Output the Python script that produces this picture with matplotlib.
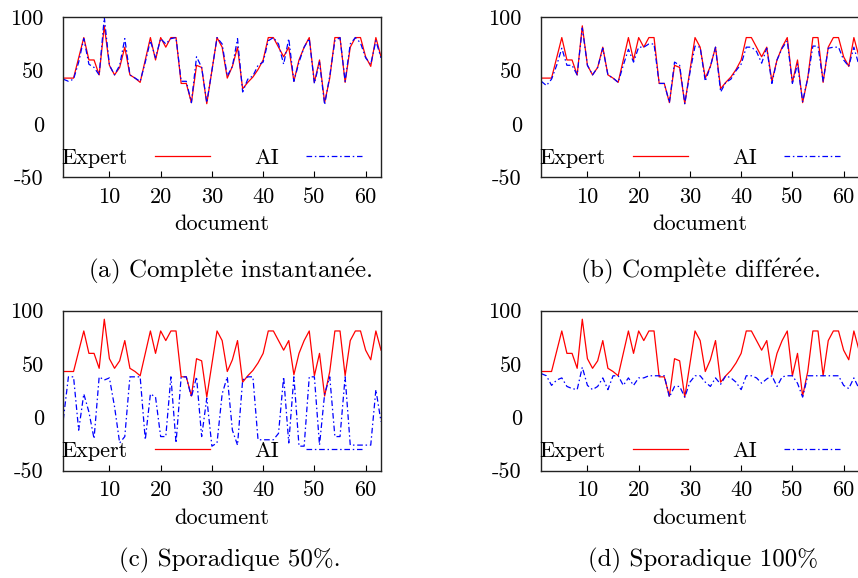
"""Expert vs AI scores per document for four feedback modes."""

from __future__ import annotations

import matplotlib

matplotlib.use("Agg")

import matplotlib.pyplot as plt

documents = list(range(1, 64))

expert = [
    43, 43, 43, 62, 81, 60, 60, 46, 92, 55,
    46, 53, 72, 46, 43, 39, 60, 81, 60, 81,
    72, 81, 81, 38, 38, 20, 55, 53, 19, 50,
    81, 72, 43, 54, 72, 33, 39, 44, 51, 60,
    81, 81, 72, 63, 72, 40, 60, 72, 81, 39,
    60, 20, 43, 81, 81, 39, 72, 81, 81, 63,
    54, 81, 63,
]

ai_instant = [
    42, 40, 42, 58, 80, 56, 53, 46, 100, 55,
    46, 55, 80, 46, 43, 40, 58, 78, 62, 80,
    75, 80, 81, 40, 40, 20, 63, 53, 20, 50,
    81, 75, 45, 54, 80, 30, 42, 45, 55, 58,
    78, 81, 75, 56, 80, 40, 58, 72, 80, 38,
    58, 18, 45, 78, 81, 40, 75, 81, 76, 62,
    56, 78, 62,
]

ai_deferred = [
    40, 36, 42, 55, 71, 55, 55, 46, 90, 55,
    46, 53, 71, 46, 43, 39, 55, 70, 58, 72,
    72, 75, 75, 38, 38, 20, 58, 55, 19, 48,
    73, 72, 40, 54, 72, 30, 39, 42, 50, 56,
    72, 72, 68, 57, 71, 38, 60, 71, 78, 38,
    56, 21, 43, 73, 73, 40, 71, 72, 72, 60,
    54, 72, 55,
]

ai_sporadic_50 = [
    -2, 38, 38, -12, 22, 5, -20, 38, 35, 37,
    10, -24, -18, 38, 38, 38, -21, 22, 19, -18,
    -18, 38, -24, 38, 38, 19, 38, -18, 18, -27,
    -24, 22, 38, -12, -26, 35, 38, 38, -21, -21,
    -21, -21, -15, 38, -24, 38, -27, -27, 38, 38,
    -26, 22, 38, -18, -18, 38, -26, -26, -26, -26,
    -26, 26, -4,
]

ai_sporadic_100 = [
    41, 39, 30, 35, 37, 29, 27, 26, 47, 30,
    26, 29, 37, 26, 39, 39, 30, 37, 30, 37,
    37, 39, 39, 39, 39, 19, 29, 29, 19, 33,
    39, 39, 33, 29, 37, 31, 39, 37, 33, 26,
    39, 39, 37, 32, 36, 39, 29, 38, 39, 39,
    32, 19, 39, 39, 39, 39, 39, 39, 39, 30,
    27, 37, 27,
]

# accented letters go through mathtext (cm) since cmr10 has no è / é
panels = [
    (r"(a) Compl$\grave{\mathrm{e}}$te instantan$\acute{\mathrm{e}}$e.", ai_instant),
    (r"(b) Compl$\grave{\mathrm{e}}$te diff$\acute{\mathrm{e}}$r$\acute{\mathrm{e}}$e.", ai_deferred),
    ("(c) Sporadique 50%.", ai_sporadic_50),
    ("(d) Sporadique 100%", ai_sporadic_100),
]

x_ticks = [10, 20, 30, 40, 50, 60]
y_ticks = [-50, 0, 50, 100]
y_tick_labels = ["-50", "0", "50", "100"]

FIG_W, FIG_H = 858, 578
# axes boxes in pixels: left, top, width, height
AXES_PX = [
    (63.3, 17.3, 317.7, 160.0),
    (541.3, 17.3, 317.7, 160.0),
    (63.3, 310.7, 317.7, 160.0),
    (541.3, 310.7, 317.7, 160.0),
]
CAPTION_PX = [(230, 271), (700, 271), (230, 560), (703, 560)]

plt.rcParams["font.family"] = ["cmr10", "DejaVu Serif"]
plt.rcParams["font.size"] = 16
plt.rcParams["axes.unicode_minus"] = False
plt.rcParams["mathtext.fontset"] = "cm"

fig = plt.figure(figsize=(FIG_W / 100, FIG_H / 100), dpi=100)

for (caption, ai_values), (left, top, width, height), (cx, cy) in zip(panels, AXES_PX, CAPTION_PX):
    ax = fig.add_axes([left / FIG_W, 1 - (top + height) / FIG_H, width / FIG_W, height / FIG_H])
    ax.plot(documents, expert, color="#ff0000", linewidth=0.9, label="Expert")
    ax.plot(documents, ai_values, color="#0000ff", linewidth=0.9,
            linestyle=(0, (4.5, 2.2, 1.2, 2.2)), label="AI")

    ax.set_xlim(1, 63)
    ax.set_ylim(-50, 100)
    ax.set_xticks(x_ticks)
    ax.set_yticks(y_ticks, y_tick_labels)
    ax.tick_params(axis="x", direction="in", length=4, width=0.8, pad=7)
    ax.tick_params(axis="y", length=0, pad=14)
    for spine in ax.spines.values():
        spine.set_linewidth(1.0)
        spine.set_color("#222222")
    ax.set_xlabel("document", labelpad=6)

    ax.legend(
        loc="lower left",
        bbox_to_anchor=(-0.005, 0.06),
        ncol=2,
        frameon=False,
        markerfirst=False,
        handlelength=2.5,
        handletextpad=1.2,
        columnspacing=2.0,
        borderaxespad=0,
        borderpad=0,
        fontsize=16,
    )

    fig.text(cx / FIG_W, 1 - cy / FIG_H, caption, ha="center", va="center", fontsize=18)

fig.savefig("out.png", dpi=100)
